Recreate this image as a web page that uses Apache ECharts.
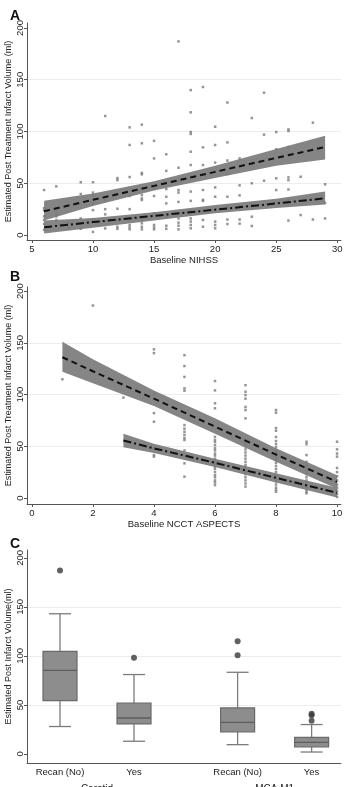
<!DOCTYPE html>
<html>
<head>
<meta charset="utf-8">
<script src="https://cdn.jsdelivr.net/npm/echarts@6/dist/echarts.min.js"></script>
<style>
  html, body { margin: 0; padding: 0; background: #fff; }
  #chart { width: 344px; height: 787px; }
</style>
</head>
<body>
<div id="chart"></div>
<script>
// ---- Panel A: infarct volume vs baseline NIHSS ----
// each entry: [NIHSS, [volumes...]]
const nihssColumns = [
  [6, [43.5, 26, 24, 18, 14.5, 10.6, 5]],
  [7, [47, 21, 18, 14.5]],
  [8, [12, 7]],
  [9, [51, 39.6, 16, 11.5, 6]],
  [10, [51, 41, 38, 30.6, 24, 15, 3]],
  [11, [115, 34, 25, 20, 6.4]],
  [12, [55, 53, 25.4, 14, 8, 6]],
  [13, [104, 87, 56, 37.7, 25, 9.7, 7.4, 5.5]],
  [14, [106.6, 88.6, 60, 58.6, 38.6, 35.4, 33.8, 15, 11.3, 8, 5.5]],
  [15, [91, 74, 45, 37.7, 21, 9.7, 7.4, 5.5]],
  [16, [78, 62, 44.4, 37, 30.6, 18, 9, 6]],
  [17, [187, 65, 51.5, 43.5, 41, 32, 16, 12, 9, 5.5]],
  [18, [140, 118.5, 99.5, 97.6, 80.5, 67.6, 42, 33, 23, 16, 13, 9.7, 6.5]],
  [19, [143, 84.7, 67.6, 43.5, 34, 33, 23, 14.5, 8]],
  [20, [104.6, 87, 70, 46, 37, 25, 13, 9.7, 6.5]],
  [21, [128, 89.5, 72, 59, 37, 28, 15, 10.6]],
  [22, [74, 48, 38.3, 28, 15, 11]],
  [23, [113, 50, 30, 17.7, 8.7]],
  [24, [137.5, 97, 52.5]],
  [25, [99.5, 82.8, 54.8, 43.5]],
  [26, [102, 100.5, 85, 55.7, 53, 44, 34, 14]],
  [27, [56.3, 19.3]],
  [28, [108.5, 15]],
  [29, [49, 31, 16]]
];
const nihssFitX = [6, 10, 15, 20, 25, 29];
// no recanalization (dashed)
const nihssNoFit = [23, 34, 47.5, 61, 74.5, 85];
const nihssNoLo = [14, 28, 43, 55, 67, 73];
const nihssNoHi = [33, 40, 52, 67, 83, 96];
// recanalization (dash-dot)
const nihssYesFit = [7.5, 12.5, 18.5, 24.5, 30.5, 35.5];
const nihssYesLo = [1.5, 7, 14, 21, 26, 29.5];
const nihssYesHi = [14, 16.5, 22, 29, 35, 42];
const nihssTicks = [5, 10, 15, 20, 25, 30];

// ---- Panel B: infarct volume vs baseline NCCT ASPECTS ----
const aspectsColumns = [
  [1, [114.7]],
  [2, [186]],
  [3, [97]],
  [4, [143.7, 140, 100.5, 82, 73.7, 41.5, 40]],
  [5, [138, 127.5, 117, 106, 103.7, 70.5, 67, 64, 61, 58, 56, 46, 33.5, 20.6]],
  [6, [113, 104, 91.5, 86.7, 59, 56, 54, 51, 48, 46, 43, 41, 38, 35, 33, 30, 28, 25, 22, 20, 17, 15, 12.5]],
  [7, [109, 102.7, 99.5, 96, 88, 85, 77, 56, 53, 50, 47, 44, 41, 38, 35, 32, 29, 26, 23, 20, 17, 14, 11]],
  [8, [85, 82.4, 67.6, 65, 59, 55, 52, 49, 46, 43, 40, 37, 34, 31, 28, 25, 22, 19, 16, 13, 10, 8, 6]],
  [9, [54.4, 52, 41.5, 35, 32, 29, 26, 23, 20, 17, 14, 11, 8, 6, 4.5]],
  [10, [54.4, 47, 43, 40, 29, 25, 21, 17, 13, 10, 7, 4, 1]]
];
const aspNoX = [1, 2, 4, 6, 8, 10];
const aspNoFit = [136, 122.5, 96, 69, 42, 15.5];
const aspNoLo = [122, 111, 89, 62, 35, 9];
const aspNoHi = [151, 134, 104, 77, 48, 22];
const aspYesX = [3, 4, 6, 8, 10];
const aspYesFit = [55.5, 48, 34, 19.5, 5];
const aspYesLo = [49, 43.5, 30, 15, 0.5];
const aspYesHi = [62, 52.5, 38, 24, 10];
const aspectsTicks = [0, 2, 4, 6, 8, 10];

// ---- Panel C: box plots ----
const boxLabels = ['Recan (No)', 'Yes', 'Recan (No)', 'Yes'];
const boxGroupLabels = ['Carotid', 'MCA M1'];
// [min, Q1, median, Q3, max]
const boxStats = [
  [28, 54.4, 85.3, 104.7, 143],
  [13, 30.6, 36.7, 52, 81],
  [9.5, 22.4, 32.3, 47, 83.3],
  [2, 7.1, 11.9, 17, 30]
];
const boxOutliers = [[187], [98], [100.6, 115], [34, 39.4, 41]];
const boxSlots = [1, 2, 3.4, 4.4];
const groupSlots = [1.5, 3.9];

const volumeTicks = [0, 50, 100, 150, 200];

const FONT = 'Liberation Sans, Arial, sans-serif';
const BAND = '#858585';
const TEXT = '#222';
const AXIS = '#555';

function flatten(cols) {
  const out = [];
  cols.forEach(([x, ys]) => ys.forEach(y => out.push([x, y])));
  return out;
}

function xAxisFor(gi, min, max, ticks, name) {
  return {
    type: 'value', gridIndex: gi, min, max, name,
    nameLocation: 'middle', nameGap: 15,
    nameTextStyle: { fontSize: 9.5, color: TEXT, fontFamily: FONT },
    axisLine: { show: true, onZero: false, lineStyle: { color: AXIS } },
    axisTick: { show: true, length: 3, customValues: ticks, lineStyle: { color: AXIS } },
    axisLabel: { customValues: ticks, margin: 4, fontSize: 9.5, color: TEXT, fontFamily: FONT },
    splitLine: { show: false }
  };
}

function yAxisFor(gi, min, max, name) {
  return {
    type: 'value', gridIndex: gi, min, max, name,
    nameLocation: 'middle', nameGap: 14, nameMoveOverlap: false,
    nameTextStyle: { fontSize: 9, color: TEXT, fontFamily: FONT },
    axisLine: { show: true, onZero: false, lineStyle: { color: AXIS } },
    axisTick: { show: true, length: 3, customValues: volumeTicks, lineStyle: { color: AXIS } },
    axisLabel: { customValues: volumeTicks, rotate: 90, margin: 2, fontSize: 9.5, color: TEXT, fontFamily: FONT },
    splitLine: { show: true, showMinLine: false, showMaxLine: false, lineStyle: { color: '#ececec' } }
  };
}

// confidence band drawn as one polygon through the axis scales
function band(gi, xs, lo, hi) {
  return {
    type: 'custom', xAxisIndex: gi, yAxisIndex: gi, silent: true, z: 1,
    data: xs.map((x, i) => [x, lo[i], hi[i]]),
    encode: { x: 0, y: [1, 2] },
    renderItem: (params, api) => {
      if (params.dataIndex !== 0) return null;
      const top = xs.map((x, i) => api.coord([x, hi[i]]));
      const bottom = xs.map((x, i) => api.coord([x, lo[i]])).reverse();
      return { type: 'polygon', shape: { points: top.concat(bottom) }, style: { fill: BAND } };
    }
  };
}

function fitLine(gi, xs, ys, dash) {
  return {
    type: 'line', xAxisIndex: gi, yAxisIndex: gi, silent: true, symbol: 'none',
    data: xs.map((x, i) => [x, ys[i]]),
    lineStyle: { color: '#111', width: 2, type: dash }, z: 4
  };
}

function dots(gi, data) {
  return {
    type: 'scatter', xAxisIndex: gi, yAxisIndex: gi, data,
    symbol: 'rect', symbolSize: 2.5, itemStyle: { color: '#7a7a7a' }, z: 3
  };
}

// Stata-style box: narrower whisker caps than the box
function renderBox(params, api) {
  const x = api.value(0);
  const [px, yMin] = api.coord([x, api.value(1)]);
  const yQ1 = api.coord([x, api.value(2)])[1];
  const yMed = api.coord([x, api.value(3)])[1];
  const yQ3 = api.coord([x, api.value(4)])[1];
  const yMax = api.coord([x, api.value(5)])[1];
  const half = 17, cap = 11;
  const wStyle = { stroke: '#7c7c7c', lineWidth: 1.3 };
  return {
    type: 'group',
    children: [
      { type: 'line', shape: { x1: px, y1: yQ3, x2: px, y2: yMax }, style: wStyle },
      { type: 'line', shape: { x1: px, y1: yQ1, x2: px, y2: yMin }, style: wStyle },
      { type: 'line', shape: { x1: px - cap, y1: yMax, x2: px + cap, y2: yMax }, style: wStyle },
      { type: 'line', shape: { x1: px - cap, y1: yMin, x2: px + cap, y2: yMin }, style: wStyle },
      { type: 'rect', shape: { x: px - half, y: yQ3, width: half * 2, height: yQ1 - yQ3 },
        style: { fill: '#8d8d8d', stroke: '#6a6a6a', lineWidth: 1.2 } },
      { type: 'line', shape: { x1: px - half, y1: yMed, x2: px + half, y2: yMed },
        style: { stroke: '#5e5e5e', lineWidth: 1.3 } }
    ]
  };
}

const chart = echarts.init(document.getElementById('chart'), null, { renderer: 'canvas' });

const gridBase = { outerBoundsMode: 'none', containLabel: false };

const option = {
  animation: false,
  backgroundColor: '#fff',
  title: [
    { text: 'A', left: 5, top: 4 },
    { text: 'B', left: 5, top: 265 },
    { text: 'C', left: 5, top: 532 }
  ].map(t => Object.assign(t, { textStyle: { fontSize: 14, fontWeight: 'bold', color: '#111', fontFamily: FONT } })),
  grid: [
    Object.assign({ left: 27, top: 23, width: 314, height: 217 }, gridBase),
    Object.assign({ left: 27, top: 287, width: 314, height: 217 }, gridBase),
    Object.assign({ left: 27, top: 550, width: 314, height: 213 }, gridBase)
  ],
  xAxis: [
    xAxisFor(0, 4.6, 30.3, nihssTicks, 'Baseline NIHSS'),
    xAxisFor(1, -0.16, 10.13, aspectsTicks, 'Baseline NCCT ASPECTS'),
    {
      type: 'value', gridIndex: 2, min: 0.554, max: 4.797, position: 'bottom',
      axisLine: { show: true, onZero: false, lineStyle: { color: AXIS } },
      axisTick: { show: false },
      axisLabel: {
        customValues: boxSlots, margin: 4, fontSize: 9.5, color: TEXT, fontFamily: FONT,
        formatter: v => boxLabels[boxSlots.indexOf(v)] || ''
      },
      splitLine: { show: false }
    },
    {
      type: 'value', gridIndex: 2, min: 0.554, max: 4.797, position: 'bottom',
      axisLine: { show: false }, axisTick: { show: false },
      axisLabel: {
        customValues: groupSlots, margin: 21, fontSize: 10, color: TEXT, fontFamily: FONT,
        formatter: v => boxGroupLabels[groupSlots.indexOf(v)] || ''
      },
      splitLine: { show: false }
    }
  ],
  yAxis: [
    yAxisFor(0, -4.8, 204.8, 'Estimated Post Treatment Infarct Volume (ml)'),
    yAxisFor(1, -5.8, 203.9, 'Estimated Post Treatment Infarct Volume (ml)'),
    yAxisFor(2, -9.2, 208, 'Estimated Post Infarct Volume(ml)')
  ],
  series: [
    band(0, nihssFitX, nihssNoLo, nihssNoHi),
    band(0, nihssFitX, nihssYesLo, nihssYesHi),
    dots(0, flatten(nihssColumns)),
    fitLine(0, nihssFitX, nihssNoFit, [6, 4]),
    fitLine(0, nihssFitX, nihssYesFit, [8, 3, 2, 3]),

    band(1, aspNoX, aspNoLo, aspNoHi),
    band(1, aspYesX, aspYesLo, aspYesHi),
    dots(1, flatten(aspectsColumns)),
    fitLine(1, aspNoX, aspNoFit, [6, 4]),
    fitLine(1, aspYesX, aspYesFit, [8, 3, 2, 3]),

    {
      type: 'custom', xAxisIndex: 2, yAxisIndex: 2,
      data: boxStats.map((s, i) => [boxSlots[i]].concat(s)),
      encode: { x: 0, y: [1, 2, 3, 4, 5] },
      renderItem: renderBox
    },
    {
      type: 'scatter', xAxisIndex: 2, yAxisIndex: 2,
      data: boxOutliers.flatMap((vals, i) => vals.map(v => [boxSlots[i], v])),
      symbol: 'circle', symbolSize: 6, itemStyle: { color: '#3a3a3a' }
    }
  ]
};

chart.setOption(option);
</script>
</body>
</html>
